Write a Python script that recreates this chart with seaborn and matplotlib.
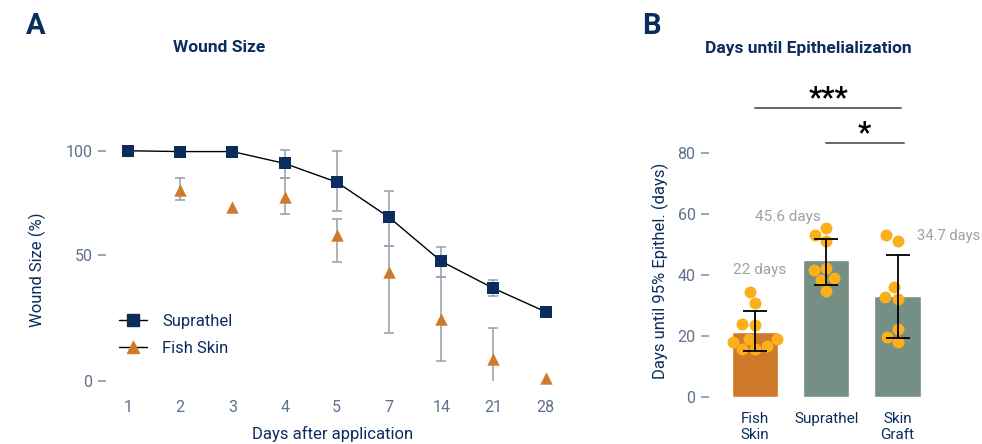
import numpy as np
import pandas as pd
import seaborn as sns
import matplotlib.pyplot as plt
from matplotlib.lines import Line2D

# ---- data: panel A (wound size, %) ----
days = ["1", "2", "3", "4", "5", "7", "14", "21", "28"]
supra_mean = [100, 99.6, 99.6, 93.9, 84.9, 68.0, 47.4, 36.7, 27.4]
supra_low = [np.nan, np.nan, np.nan, 86.7, 71.2, 54.2, 41.1, 33.5, np.nan]
supra_high = [np.nan, np.nan, np.nan, 100.3, 100.0, 80.8, 53.8, 39.9, np.nan]
fish_mean = [np.nan, 81.1, 73.1, 77.6, 59.5, 43.3, 24.5, 8.7, 1.3]
fish_low = [np.nan, 76.3, np.nan, 69.4, 47.0, 19.1, 7.8, -3.4, np.nan]
fish_high = [np.nan, 87.0, np.nan, 86.7, 67.3, 54.2, 41.1, 20.8, np.nan]

# ---- data: panel B (days until epithelialization) ----
groups = ["Fish\nSkin", "Suprathel", "Skin\nGraft"]
bar_means = [21.3, 44.8, 33.0]
bar_low = [15.0, 36.6, 19.3]
bar_high = [28.1, 51.6, 46.5]
bar_labels = ["22 days", "45.6 days", "34.7 days"]
fish_pts = [34.4, 30.8, 23.5, 23.8, 19.0, 18.0, 18.9, 15.6, 15.6, 16.7]
supra_pts = [55.4, 52.9, 51.0, 42.1, 41.4, 38.8, 38.3, 34.7]
graft_pts = [52.9, 51.1, 35.9, 32.1, 32.8, 22.2, 19.7, 17.8]

navy = "#0b2d5e"
orange = "#cf7a2b"
green = "#768f85"
dot = "#fbaf1a"
ebar = "#9ba5b3"
tickc = "#5e708c"

sns.set_style("white")
plt.rcParams["font.family"] = ["Roboto", "DejaVu Sans"]

fig = plt.figure(figsize=(9.82, 4.44), dpi=100)

# ---------------- Panel A ----------------
k1, k2 = 126.3 / 50, 104 / 50   # the original y axis is not evenly spaced


def fwd(y):
    y = np.asarray(y, dtype=float)
    return np.where(y <= 50, y * k1, 50 * k1 + (y - 50) * k2)


def inv(p):
    p = np.asarray(p, dtype=float)
    return np.where(p <= 50 * k1, p / k1, 50 + (p - 50 * k1) / k2)


axA = fig.add_axes([0.1117, 0.1419, 0.4626, 0.542])
axA.set_yscale("function", functions=(fwd, inv))
xi = np.arange(len(days))

sns.lineplot(x=xi, y=supra_mean, color="black", lw=1, ax=axA, zorder=2)

s_mean = np.array(supra_mean)
axA.errorbar(xi, s_mean, yerr=[s_mean - np.array(supra_low), np.array(supra_high) - s_mean],
             fmt="none", ecolor=ebar, elinewidth=1.2, capsize=3.8, capthick=1.2, zorder=1)
f_mean = np.array(fish_mean)
axA.errorbar(xi, f_mean, yerr=[f_mean - np.array(fish_low), np.array(fish_high) - f_mean],
             fmt="none", ecolor=ebar, elinewidth=1.2, capsize=3.8, capthick=1.2, zorder=1)

sns.scatterplot(x=xi, y=supra_mean, marker="s", s=85, color=navy, edgecolor=navy,
                linewidth=0, ax=axA, zorder=3, clip_on=False)
sns.scatterplot(x=xi, y=fish_mean, marker="^", s=80, color=orange, edgecolor=orange,
                linewidth=0, ax=axA, zorder=3, clip_on=False)

axA.set_xlim(-0.35, 8.35)
axA.set_ylim(0, 105)
axA.set_xticks(xi)
axA.set_xticklabels(days)
axA.set_yticks([0, 50, 100])
axA.set_yticklabels(["0", "50", "100"])
for sp in axA.spines.values():
    sp.set_visible(False)
axA.spines["left"].set_position(("outward", 3))
axA.tick_params(axis="y", left=True, length=5.5, width=1.2, color="#8796aa",
                labelsize=11.5, labelcolor=tickc, pad=4)
axA.tick_params(axis="x", length=0, labelsize=11.5, labelcolor=tickc, pad=14)
axA.set_xlabel("")
axA.set_ylabel("")

handles = [
    Line2D([], [], color="black", lw=1, marker="s", markersize=9,
           markerfacecolor=navy, markeredgecolor=navy),
    Line2D([], [], color="black", lw=1, marker="^", markersize=9,
           markerfacecolor=orange, markeredgecolor=orange),
]
axA.legend(handles, ["Suprathel", "Fish Skin"], loc="center left",
           bbox_to_anchor=(104 / 982, (444 - 335) / 444), bbox_transform=fig.transFigure,
           frameon=False, fontsize=12, labelcolor=navy, handlelength=1.7,
           handletextpad=0.9, labelspacing=0.7)

fig.text(0.0367, 0.941, "A", fontsize=21, fontweight="bold", color=navy, ha="center", va="center")
fig.text(0.223, 0.892, "Wound Size", fontsize=12.5, fontweight="bold", color=navy,
         ha="center", va="center")
fig.text(0.0377, 0.392, "Wound Size (%)", fontsize=12, color=navy, rotation=90,
         ha="center", va="center")
fig.text(0.339, 0.022, "Days after application", fontsize=12, color=navy,
         ha="center", va="center")

# ---------------- Panel B ----------------
axB = fig.add_axes([0.726, 0.1065, 0.2315, 0.687])

sns.barplot(x=groups, y=bar_means, hue=groups, palette=[orange, green, green],
            width=0.65, errorbar=None, legend=False, saturation=1, ax=axB, zorder=1)

pts = pd.DataFrame({
    "group": [groups[0]] * len(fish_pts) + [groups[1]] * len(supra_pts) + [groups[2]] * len(graft_pts),
    "days": fish_pts + supra_pts + graft_pts,
})
sns.swarmplot(data=pts, x="group", y="days", order=groups, color=dot, size=8.6,
              linewidth=0, ax=axB, zorder=3)

bx = np.arange(len(groups))
bm = np.array(bar_means)
axB.errorbar(bx, bm, yerr=[bm - np.array(bar_low), np.array(bar_high) - bm],
             fmt="none", ecolor="black", elinewidth=1.3, capsize=8.5, capthick=1.3, zorder=4)

axB.text(0.07, 41.5, bar_labels[0], fontsize=11, color="#9aa1a9", ha="center", va="center")
axB.text(0.46, 58.9, bar_labels[1], fontsize=11, color="#9aa1a9", ha="center", va="center")
axB.text(2.27, 52.8, bar_labels[2], fontsize=10.6, color="#9aa1a9", ha="left", va="center",
         clip_on=False)

# significance brackets
axB.plot([0, 2.05], [94.6, 94.6], color="#666666", lw=1.4, clip_on=False)
axB.text(1.03, 98.0, "***", fontsize=21, fontweight="bold", color="black",
         ha="center", va="center", clip_on=False)
axB.plot([1.0, 2.09], [83.3, 83.3], color="#666666", lw=1.4, clip_on=False)
axB.text(1.53, 86.5, "*", fontsize=21, fontweight="bold", color="black",
         ha="center", va="center", clip_on=False)

axB.set_xlim(-0.59, 2.6)
axB.set_ylim(0, 100)
axB.set_yticks([0, 20, 40, 60, 80])
for sp in axB.spines.values():
    sp.set_visible(False)
axB.spines["left"].set_position(("outward", 3))
axB.tick_params(axis="y", left=True, length=5.5, width=1.2, color="#8796aa",
                labelsize=11.5, labelcolor=tickc, pad=4)
axB.tick_params(axis="x", length=0, labelsize=11, labelcolor=navy, pad=11)
axB.set_xlabel("")
axB.set_ylabel("")

fig.text(0.663, 0.941, "B", fontsize=21, fontweight="bold", color=navy, ha="center", va="center")
fig.text(0.823, 0.890, "Days until Epithelialization", fontsize=12.5, fontweight="bold",
         color=navy, ha="center", va="center")
fig.text(0.672, 0.39, "Days until 95% Epithel. (days)", fontsize=12, color=navy,
         rotation=90, ha="center", va="center")

fig.savefig("out.png", dpi=100)
